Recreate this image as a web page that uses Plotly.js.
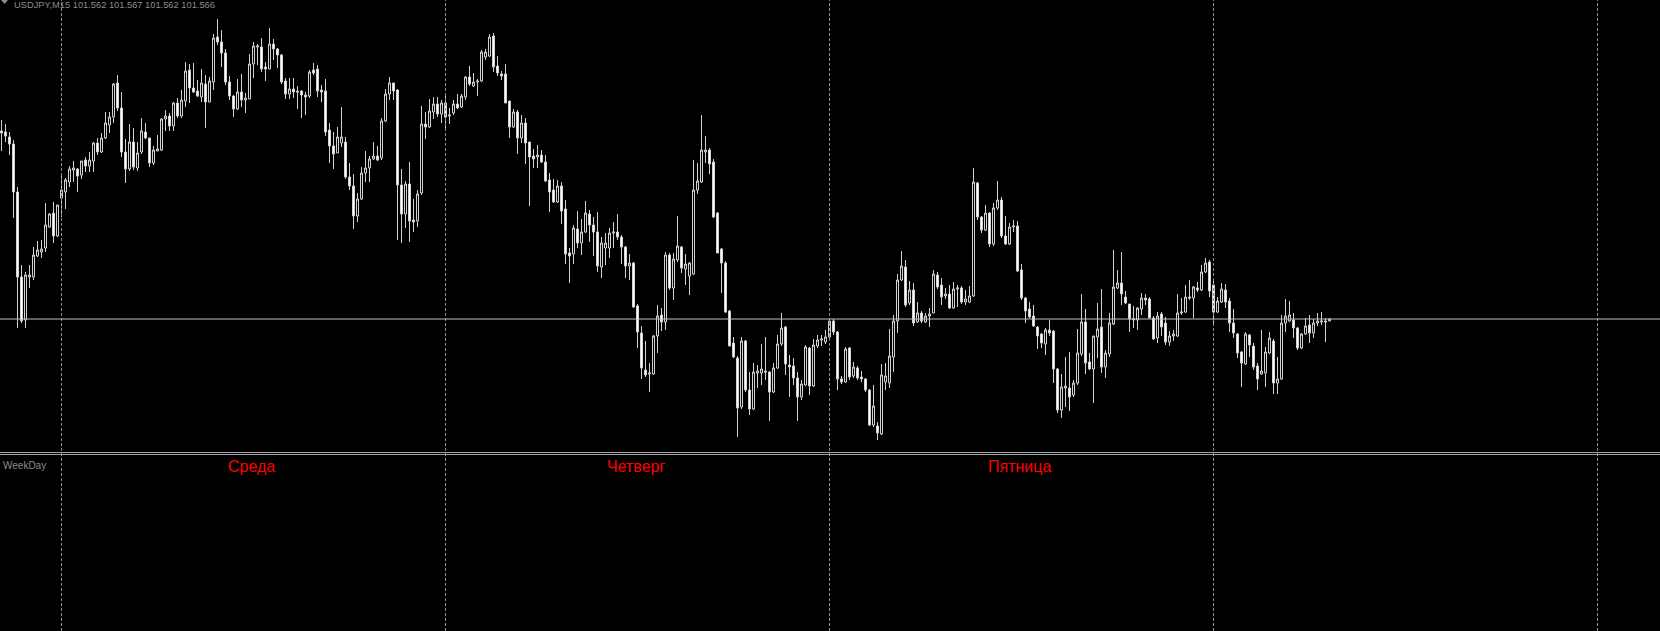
<!DOCTYPE html>
<html><head><meta charset="utf-8">
<script src="https://cdn.plot.ly/plotly-3.0.1.min.js"></script>
<style>html,body{margin:0;padding:0;background:#000;overflow:hidden}#chart{width:1660px;height:631px}</style>
</head><body><div id="chart"></div>
<script>
const symbolLabel = 'USDJPY,M15';
const indicatorLabel = 'WeekDay';
const openP = [
101.942,101.940,101.930,101.916,101.820,101.650,101.564,101.650,101.650,101.692,
101.700,101.708,101.750,101.778,101.732,101.808,101.820,101.840,101.864,101.866,
101.854,101.884,101.872,101.882,101.918,101.900,101.928,101.954,101.970,102.038,
101.988,101.900,101.866,101.920,101.868,101.900,101.940,101.928,101.878,101.902,
101.904,101.966,101.972,101.952,101.998,101.972,102.002,102.064,102.028,102.022,
102.010,102.036,102.000,102.040,102.130,102.120,102.098,102.040,102.012,101.986,
102.020,102.004,102.006,102.076,102.110,102.110,102.070,102.066,102.116,102.106,
102.094,102.042,102.016,102.026,102.022,102.022,102.014,102.012,102.064,102.066,
102.024,102.022,101.944,101.912,101.898,101.918,101.920,101.850,101.832,101.772,
101.806,101.858,101.868,101.886,101.892,101.888,101.962,102.016,102.038,102.024,
101.834,101.776,101.836,101.764,101.762,101.818,101.956,101.950,101.980,101.996,
101.976,101.998,101.972,101.978,101.996,101.990,102.010,102.050,102.032,102.040,
102.042,102.090,102.092,102.132,102.072,102.056,102.056,102.002,101.950,101.980,
101.928,101.958,101.920,101.892,101.890,101.894,101.880,101.844,101.824,101.800,
101.832,101.786,101.698,101.696,101.746,101.718,101.740,101.776,101.754,101.740,
101.670,101.708,101.708,101.738,101.740,101.730,101.710,101.672,101.678,101.592,
101.538,101.464,101.456,101.456,101.532,101.574,101.560,101.694,101.628,101.684,
101.710,101.666,101.652,101.656,101.824,101.840,101.900,101.904,101.880,101.778,
101.706,101.678,101.582,101.518,101.488,101.390,101.522,101.424,101.386,101.458,
101.458,101.462,101.460,101.420,101.468,101.516,101.550,101.474,101.472,101.448,
101.410,101.434,101.508,101.432,101.512,101.524,101.520,101.530,101.562,101.540,
101.446,101.440,101.508,101.452,101.468,101.450,101.446,101.424,101.354,101.352,
101.336,101.440,101.438,101.490,101.562,101.644,101.670,101.598,101.624,101.560,
101.578,101.560,101.572,101.578,101.654,101.634,101.612,101.616,101.588,101.626,
101.628,101.600,101.600,101.612,101.838,101.770,101.744,101.778,101.716,101.788,
101.804,101.732,101.716,101.750,101.752,101.664,101.608,101.586,101.572,101.550,
101.536,101.516,101.544,101.542,101.466,101.384,101.428,101.428,101.414,101.438,
101.496,101.560,101.480,101.466,101.530,101.550,101.470,101.496,101.556,101.628,
101.638,101.610,101.596,101.564,101.564,101.586,101.608,101.606,101.568,101.528,
101.576,101.558,101.520,101.532,101.532,101.578,101.580,101.610,101.608,101.628,
101.624,101.660,101.680,101.634,101.580,101.600,101.624,101.602,101.558,101.536,
101.500,101.476,101.534,101.512,101.472,101.456,101.458,101.498,101.522,101.438,
101.446,101.558,101.562,101.564,101.548,101.508,101.536,101.554,101.538,101.558,
101.560,101.562,101.562];
const highP = [
101.964,101.956,101.940,101.924,101.830,101.674,101.660,101.674,101.710,101.722,
101.724,101.798,101.778,101.800,101.794,101.856,101.848,101.872,101.882,101.868,
101.882,101.890,101.900,101.920,101.928,101.938,101.980,101.980,102.038,102.054,
102.020,101.926,101.956,101.948,101.920,101.968,101.958,101.928,101.912,101.934,
101.968,101.984,101.978,102.000,102.008,102.024,102.080,102.076,102.078,102.044,
102.066,102.054,102.050,102.136,102.166,102.144,102.106,102.052,102.014,102.046,
102.056,102.018,102.096,102.120,102.116,102.128,102.080,102.148,102.126,102.108,
102.096,102.048,102.048,102.048,102.032,102.024,102.020,102.064,102.078,102.074,
102.034,102.046,101.958,101.940,101.950,101.990,101.930,101.878,101.856,101.818,
101.870,101.902,101.892,101.920,101.912,101.968,102.026,102.050,102.038,102.026,
101.866,101.842,101.880,101.806,101.824,101.992,101.980,102.006,102.010,102.010,
102.004,102.014,101.988,102.004,102.016,102.016,102.052,102.072,102.058,102.046,
102.104,102.106,102.136,102.138,102.092,102.062,102.076,102.002,101.986,101.984,
101.974,101.968,101.920,101.906,101.914,101.904,101.894,101.858,101.846,101.844,
101.840,101.804,101.708,101.754,101.782,101.766,101.802,101.784,101.770,101.780,
101.730,101.738,101.748,101.760,101.776,101.734,101.712,101.696,101.680,101.596,
101.552,101.522,101.478,101.534,101.594,101.588,101.700,101.698,101.698,101.772,
101.712,101.696,101.680,101.884,101.878,101.974,101.932,101.908,101.886,101.780,
101.708,101.682,101.584,101.530,101.492,101.530,101.524,101.460,101.478,101.474,
101.516,101.530,101.462,101.478,101.534,101.578,101.552,101.494,101.488,101.460,
101.444,101.514,101.510,101.526,101.534,101.534,101.544,101.568,101.566,101.542,
101.452,101.510,101.510,101.480,101.472,101.462,101.448,101.426,101.434,101.360,
101.476,101.478,101.546,101.574,101.656,101.702,101.684,101.642,101.638,101.600,
101.582,101.578,101.588,101.664,101.660,101.648,101.628,101.634,101.640,101.634,
101.632,101.624,101.632,101.868,101.840,101.772,101.794,101.780,101.798,101.842,
101.810,101.772,101.758,101.764,101.762,101.676,101.610,101.600,101.594,101.552,
101.538,101.548,101.564,101.544,101.468,101.456,101.490,101.500,101.444,101.546,
101.616,101.586,101.498,101.532,101.598,101.626,101.504,101.578,101.704,101.664,
101.700,101.622,101.596,101.592,101.590,101.618,101.616,101.610,101.572,101.580,
101.580,101.570,101.542,101.544,101.616,101.608,101.634,101.644,101.632,101.640,
101.674,101.688,101.684,101.642,101.610,101.638,101.636,101.608,101.586,101.538,
101.502,101.540,101.536,101.518,101.478,101.544,101.510,101.540,101.526,101.490,
101.574,101.606,101.602,101.578,101.550,101.538,101.568,101.574,101.566,101.578,
101.580,101.568,101.567];
const lowP = [
101.902,101.920,101.894,101.768,101.548,101.558,101.548,101.628,101.644,101.690,
101.688,101.700,101.748,101.718,101.730,101.770,101.786,101.830,101.840,101.820,
101.846,101.860,101.860,101.860,101.894,101.898,101.926,101.938,101.958,101.982,
101.890,101.838,101.862,101.864,101.862,101.896,101.926,101.870,101.874,101.902,
101.902,101.942,101.942,101.942,101.968,101.968,101.990,101.998,102.018,102.010,
102.000,101.948,102.000,102.024,102.114,102.070,102.034,102.004,101.970,101.984,
101.990,101.978,102.006,102.048,102.074,102.060,102.042,102.066,102.084,102.068,
102.036,102.006,102.006,102.008,101.986,101.968,101.974,102.008,102.054,102.010,
102.000,101.932,101.878,101.866,101.898,101.910,101.846,101.824,101.746,101.760,
101.804,101.840,101.840,101.884,101.882,101.884,101.960,102.004,102.004,101.724,
101.718,101.748,101.720,101.740,101.750,101.814,101.926,101.948,101.966,101.970,
101.958,101.948,101.956,101.974,101.986,101.988,102.004,102.032,102.030,102.012,
102.040,102.084,102.090,102.060,102.052,102.044,101.998,101.928,101.948,101.896,
101.918,101.876,101.792,101.868,101.868,101.878,101.840,101.780,101.798,101.798,
101.756,101.676,101.638,101.676,101.708,101.694,101.738,101.720,101.692,101.660,
101.648,101.674,101.688,101.708,101.724,101.676,101.648,101.644,101.588,101.508,
101.446,101.450,101.420,101.454,101.498,101.542,101.544,101.624,101.604,101.680,
101.658,101.634,101.614,101.654,101.816,101.838,101.878,101.856,101.768,101.698,
101.618,101.578,101.512,101.488,101.330,101.386,101.420,101.374,101.384,101.428,
101.434,101.444,101.362,101.418,101.466,101.512,101.454,101.410,101.434,101.362,
101.404,101.432,101.414,101.430,101.508,101.512,101.516,101.526,101.534,101.424,
101.436,101.438,101.444,101.448,101.444,101.440,101.420,101.352,101.350,101.324,
101.334,101.424,101.428,101.460,101.538,101.642,101.590,101.594,101.552,101.558,
101.558,101.558,101.550,101.578,101.626,101.594,101.606,101.586,101.586,101.590,
101.596,101.594,101.598,101.610,101.764,101.738,101.742,101.710,101.712,101.784,
101.728,101.714,101.714,101.740,101.660,101.604,101.558,101.568,101.550,101.506,
101.508,101.494,101.532,101.438,101.378,101.368,101.390,101.382,101.410,101.434,
101.492,101.456,101.464,101.398,101.488,101.458,101.448,101.490,101.554,101.626,
101.594,101.596,101.540,101.548,101.544,101.574,101.594,101.568,101.524,101.518,
101.532,101.514,101.512,101.522,101.530,101.574,101.578,101.604,101.568,101.620,
101.622,101.658,101.610,101.554,101.578,101.598,101.588,101.540,101.528,101.488,
101.430,101.474,101.490,101.464,101.424,101.454,101.430,101.496,101.416,101.416,
101.444,101.540,101.560,101.528,101.504,101.506,101.534,101.518,101.528,101.552,
101.554,101.520,101.562];
const closeP = [
101.938,101.932,101.916,101.820,101.650,101.562,101.654,101.654,101.694,101.704,
101.706,101.754,101.776,101.732,101.794,101.824,101.844,101.866,101.868,101.852,
101.882,101.872,101.884,101.918,101.900,101.928,101.958,101.970,102.036,101.988,
101.900,101.866,101.920,101.870,101.898,101.942,101.928,101.878,101.904,101.906,
101.966,101.972,101.952,101.998,101.972,102.004,102.062,102.028,102.020,102.012,
102.038,102.000,102.042,102.128,102.120,102.098,102.040,102.012,101.986,102.020,
102.004,102.008,102.076,102.112,102.112,102.066,102.066,102.116,102.106,102.094,
102.040,102.016,102.026,102.020,102.020,102.014,102.010,102.060,102.058,102.022,
102.020,101.940,101.912,101.896,101.930,101.930,101.850,101.832,101.772,101.806,
101.858,101.868,101.886,101.892,101.884,101.962,102.016,102.038,102.022,101.834,
101.776,101.836,101.762,101.760,101.816,101.956,101.950,101.982,101.996,101.976,
101.998,101.970,101.974,101.996,101.988,102.012,102.050,102.036,102.040,102.042,
102.100,102.100,102.130,102.070,102.058,102.052,101.998,101.950,101.980,101.928,
101.958,101.918,101.890,101.886,101.894,101.880,101.842,101.820,101.800,101.832,
101.782,101.696,101.692,101.748,101.718,101.740,101.778,101.754,101.740,101.672,
101.718,101.718,101.738,101.740,101.730,101.710,101.672,101.678,101.590,101.540,
101.468,101.454,101.458,101.532,101.572,101.560,101.694,101.628,101.686,101.712,
101.668,101.676,101.678,101.824,101.842,101.904,101.904,101.876,101.770,101.698,
101.678,101.580,101.512,101.490,101.388,101.522,101.424,101.386,101.460,101.462,
101.466,101.460,101.420,101.468,101.516,101.548,101.476,101.470,101.448,101.410,
101.436,101.510,101.432,101.514,101.524,101.526,101.530,101.562,101.540,101.446,
101.440,101.506,101.450,101.470,101.448,101.446,101.424,101.354,101.392,101.338,
101.454,101.452,101.492,101.562,101.644,101.672,101.594,101.624,101.558,101.578,
101.562,101.572,101.576,101.656,101.630,101.610,101.616,101.588,101.626,101.628,
101.600,101.606,101.612,101.840,101.770,101.744,101.778,101.716,101.788,101.804,
101.732,101.716,101.750,101.752,101.662,101.608,101.582,101.570,101.552,101.532,
101.518,101.544,101.538,101.466,101.384,101.430,101.432,101.410,101.438,101.498,
101.560,101.478,101.466,101.532,101.546,101.470,101.498,101.558,101.630,101.638,
101.616,101.598,101.566,101.566,101.588,101.608,101.604,101.568,101.526,101.572,
101.550,101.520,101.532,101.536,101.578,101.580,101.610,101.608,101.630,101.624,
101.660,101.678,101.622,101.580,101.602,101.626,101.600,101.558,101.538,101.498,
101.478,101.536,101.514,101.470,101.446,101.462,101.500,101.528,101.438,101.446,
101.558,101.572,101.574,101.548,101.508,101.536,101.552,101.538,101.558,101.562,
101.562,101.560,101.566];
const bidPrice = 101.566;
const daySeparatorBars = [15, 111, 207, 303, 399];
const dayLabels = ['Среда', 'Четверг', 'Пятница'];

const n = Math.min(openP.length, highP.length, lowP.length, closeP.length);
const barIndex = Array.from({length: n}, (_, i) => i);
const last = n - 1;
const headerText = symbolLabel + ' ' + [openP[last], highP[last], lowP[last], closeP[last]].map(v => v.toFixed(3)).join(' ');

const W = 1660, H = 631;
const mainBottomPx = 452;
const pyTop = px => 1 - px / H;

const shapes = [];
daySeparatorBars.forEach(b => shapes.push({type:'line', xref:'x', yref:'paper', x0:b, x1:b, y0:0, y1:1,
  line:{color:'#8c8c8c', width:1, dash:'3px,2px'}, layer:'above'}));
shapes.push({type:'line', xref:'paper', yref:'y', x0:0, x1:1, y0:bidPrice, y1:bidPrice, line:{color:'#c0c0c0', width:1}, layer:'above'});
shapes.push({type:'rect', xref:'paper', yref:'paper', x0:0, x1:1, y0:pyTop(453), y1:pyTop(452), fillcolor:'#a0a0a0', line:{width:0}, layer:'above'});
shapes.push({type:'rect', xref:'paper', yref:'paper', x0:0, x1:1, y0:pyTop(455), y1:pyTop(454), fillcolor:'#a0a0a0', line:{width:0}, layer:'above'});
shapes.push({type:'path', xref:'paper', yref:'paper',
  path:'M ' + (1/W) + ' ' + pyTop(0) + ' L ' + (8/W) + ' ' + pyTop(0) + ' L ' + (4.5/W) + ' ' + pyTop(4) + ' Z',
  fillcolor:'#8c8c8c', line:{width:0}});

const annotations = [
  {xref:'paper', yref:'paper', x:12/W, y:1, xanchor:'left', yanchor:'top', yshift:2, showarrow:false,
   text: headerText, font:{family:'Liberation Sans, Arial, sans-serif', size:9.3, color:'#8c8c8c'}},
  {xref:'paper', yref:'paper', x:1/W, y:pyTop(465), xanchor:'left', yanchor:'middle', showarrow:false,
   text: indicatorLabel, font:{family:'Liberation Sans, Arial, sans-serif', size:10, color:'#8c8c8c'}}
];
dayLabels.forEach((t, k) => annotations.push({xref:'x', yref:'paper', x: daySeparatorBars[k] + 47.5, y: pyTop(466),
  xanchor:'center', yanchor:'middle', showarrow:false, text:t,
  font:{family:'Liberation Sans, Arial, sans-serif', size:16, color:'#ff0000'}}));

const trace = {
  type:'candlestick', x: barIndex, open: openP.slice(0,n), high: highP.slice(0,n), low: lowP.slice(0,n), close: closeP.slice(0,n),
  increasing:{line:{color:'#d2d2d2', width:1}, fillcolor:'#000000'},
  decreasing:{line:{color:'#d2d2d2', width:1}, fillcolor:'#ffffff'},
  whiskerwidth:0, hoverinfo:'skip', showlegend:false
};

const layout = {
  width:W, height:H, margin:{l:0, r:0, t:0, b:0, pad:0},
  paper_bgcolor:'#000000', plot_bgcolor:'#000000',
  showlegend:false, hovermode:false, boxgap:0.5, boxgroupgap:0,
  xaxis:{range:[-0.375, (W/4) - 0.375], visible:false, showgrid:false, zeroline:false, rangeslider:{visible:false}, fixedrange:true},
  yaxis:{domain:[pyTop(mainBottomPx), 1], range:[102.204 - 0.002*mainBottomPx, 102.204], visible:false, showgrid:false, zeroline:false, fixedrange:true},
  shapes: shapes, annotations: annotations
};
Plotly.newPlot('chart', [trace], layout, {staticPlot:true, displayModeBar:false});
</script></body></html>
